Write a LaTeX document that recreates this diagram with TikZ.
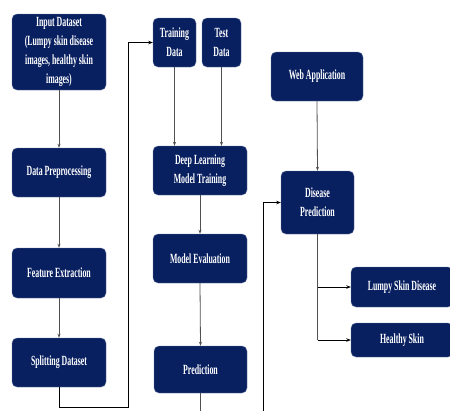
\documentclass[tikz,border=0pt]{standalone}
\usepackage{fontspec}
\setmainfont{Liberation Serif}[FakeStretch=0.56]
\usetikzlibrary{arrows.meta}
\definecolor{navy}{RGB}{8,32,96}
\definecolor{lgray}{RGB}{80,80,80}
\tikzset{
  box/.style={draw=navy!60, line width=0.4pt, fill=navy, rounded corners=5pt, text=white,
    align=center, inner sep=1pt, font=\bfseries\fontsize{14}{19}\selectfont},
  flow/.style={draw=lgray, line width=0.8pt, -{Stealth[length=4pt,width=3pt]}},
  elbow/.style={draw=black, line width=1pt, -{Stealth[length=4.5pt,width=3.5pt]}},
  plain/.style={draw=lgray, line width=0.9pt}
}
\begin{document}
\begin{tikzpicture}[x=1pt,y=-1pt]
\useasboundingbox (0,0) rectangle (450,410);
\clip (0,0) rectangle (450,410);
% nodes
\node[box, minimum width=94pt, minimum height=76pt] (in) at (59,52) {Input Dataset\\(Lumpy skin disease\\images, healthy skin\\images)};
\node[box, minimum width=94pt, minimum height=49pt] (pre) at (59,172.5) {Data Preprocessing};
\node[box, minimum width=94pt, minimum height=50pt] (feat) at (59,273) {Feature Extraction};
\node[box, minimum width=94pt, minimum height=49pt] (split) at (59,362.5) {Splitting Dataset};
\node[box, minimum width=43pt, minimum height=49pt] (train) at (174.5,42.5) {Training\\Data};
\node[box, minimum width=39pt, minimum height=49pt] (test) at (221.5,42.5) {Test\\Data};
\node[box, minimum width=94pt, minimum height=49pt] (dl) at (200,170.5) {Deep Learning\\Model Training};
\node[box, minimum width=94pt, minimum height=49pt] (eval) at (200,258.5) {Model Evaluation};
\node[box, minimum width=93pt, minimum height=47pt] (pred) at (200.5,369.5) {Prediction};
\node[box, minimum width=92pt, minimum height=49pt] (web) at (317,76.5) {Web Application};
\node[box, minimum width=73pt, minimum height=63pt] (dis) at (317.5,202.5) {Disease\\Prediction};
\node[box, minimum width=102pt, minimum height=40pt] (lumpy) at (402,287) {Lumpy Skin Disease};
\node[box, minimum width=102pt, minimum height=34pt] (healthy) at (402,340) {Healthy Skin};
% free ends
\coordinate (c1) at (59,407);
\coordinate (c2) at (128,407);
\coordinate (c3) at (128,42.5);
\coordinate (pend) at (200.5,412);
\coordinate (dstart) at (263,412);
\coordinate (d2) at (263,202.5);
\coordinate (b1) at (317.5,287);
\coordinate (b2) at (317.5,340);
% connectors
\draw[flow] (in.south) -- (pre.north);
\draw[flow] (pre.south) -- (feat.north);
\draw[flow] (feat.south) -- (split.north);
\draw[elbow] (split.south) -- (c1) -- (c2) -- (c3) -- (train.west);
\draw[flow] (train.south) -- (train.south |- dl.north);
\draw[flow] (test.south) -- (test.south |- dl.north);
\draw[flow] (dl.south) -- (eval.north);
\draw[flow] (eval.south) -- (pred.north);
\draw[plain] (pred.south) -- (pend);
\draw[elbow] (dstart) -- (d2) -- (dis.west);
\draw[flow] (web.south) -- (dis.north);
\draw[plain] (dis.south) -- (b2);
\draw[elbow] (b1) -- (lumpy.west);
\draw[elbow] (b2) -- (healthy.west);
\end{tikzpicture}
\end{document}
